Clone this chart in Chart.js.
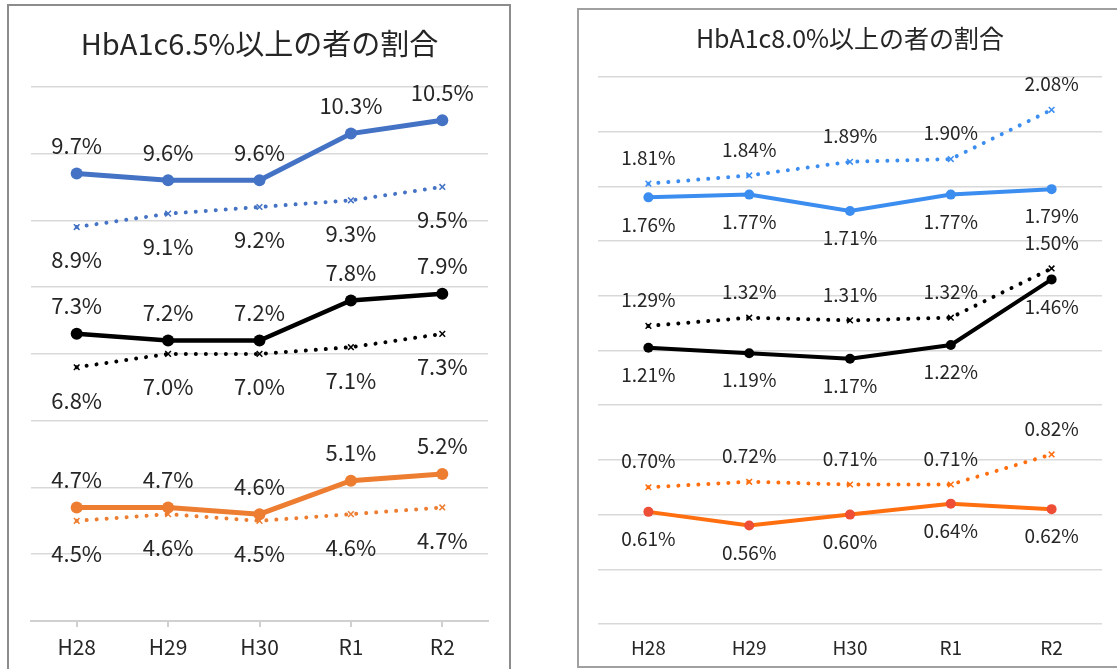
<!DOCTYPE html>
<html>
<head>
<meta charset="utf-8">
<script src="https://cdn.jsdelivr.net/npm/chart.js@4.4.1/dist/chart.umd.min.js"></script>
<style>
  body { margin: 0; background: #fff; width: 1117px; height: 669px; overflow: hidden; position: relative; }
  .panel { position: absolute; border: 2px solid #8c8c8c; box-sizing: border-box; }
  canvas { position: absolute; }
</style>
</head>
<body>
<div class="panel" style="left:7px; top:4px; width:504px; height:700px;"></div>
<div class="panel" style="left:577px; top:8px; width:560px; height:660px; border-color:#a0a0a0;"></div>
<canvas id="chart65" width="500" height="662" style="left:9px; top:6px;"></canvas>
<canvas id="chart80" width="536" height="655" style="left:579px; top:10px;"></canvas>
<script>
// fiscal years (Heisei 28 .. Reiwa 2)
const years = ['H28', 'H29', 'H30', 'R1', 'R2'];

// HbA1c 6.5% or more (%)
const a65Blue = [9.7, 9.6, 9.6, 10.3, 10.5];
const a65BlueDot = [8.9, 9.1, 9.2, 9.3, 9.5];
const a65Black = [7.3, 7.2, 7.2, 7.8, 7.9];
const a65BlackDot = [6.8, 7.0, 7.0, 7.1, 7.3];
const a65Orange = [4.7, 4.7, 4.6, 5.1, 5.2];
const a65OrangeDot = [4.5, 4.6, 4.5, 4.6, 4.7];

// HbA1c 8.0% or more (%)
const a80BlueDot = [1.81, 1.84, 1.89, 1.90, 2.08];
const a80Blue = [1.76, 1.77, 1.71, 1.77, 1.79];
const a80BlackDot = [1.29, 1.32, 1.31, 1.32, 1.50];
const a80Black = [1.21, 1.19, 1.17, 1.22, 1.46];
const a80OrangeDot = [0.70, 0.72, 0.71, 0.71, 0.82];
const a80Orange = [0.61, 0.56, 0.60, 0.64, 0.62];

const FONT = '"Noto Sans CJK JP", "Noto Sans", sans-serif';

// draws the value next to each point, above or below
const valueLabels = {
    id: 'valueLabels',
    afterDatasetsDraw(chart, args, opts) {
        const ctx = chart.ctx;
        ctx.save();
        ctx.font = opts.size + 'px ' + FONT;
        ctx.fillStyle = '#262626';
        ctx.textAlign = 'center';
        ctx.textBaseline = 'middle';
        chart.data.datasets.forEach((ds, i) => {
            const meta = chart.getDatasetMeta(i);
            meta.data.forEach((pt, j) => {
                const dy = ds.labelAbove ? -opts.above : opts.below;
                ctx.fillText(ds.data[j].toFixed(opts.digits) + '%', pt.x, pt.y + dy);
            });
        });
        ctx.restore();
    }
};

function solid(data, color, width, radius, above, pointColor) {
    return {
        data: data,
        borderColor: color,
        backgroundColor: pointColor || color,
        borderWidth: width,
        pointRadius: radius,
        pointBorderWidth: 0,
        labelAbove: above
    };
}

function dotted(data, color, above) {
    return {
        data: data,
        borderColor: color,
        backgroundColor: 'rgba(0,0,0,0)',
        borderWidth: 4,
        borderDash: [0.01, 10],
        borderCapStyle: 'round',
        pointStyle: 'crossRot',
        pointRadius: 4,
        pointBorderWidth: 1.5,
        labelAbove: above
    };
}

new Chart(document.getElementById('chart65'), {
    type: 'line',
    data: {
        labels: years,
        datasets: [
            solid(a65Blue, '#4472C4', 5, 6, true),
            dotted(a65BlueDot, '#4472C4', false),
            solid(a65Black, '#000000', 4.5, 6, true),
            dotted(a65BlackDot, '#000000', false),
            solid(a65Orange, '#ED7D31', 5, 6, true),
            dotted(a65OrangeDot, '#ED7D31', false)
        ]
    },
    options: {
        responsive: false,
        animation: false,
        devicePixelRatio: 1,
        layout: { padding: { left: 22, right: 21, top: 0, bottom: 0 } },
        plugins: {
            legend: { display: false },
            tooltip: { enabled: false },
            title: {
                display: true,
                text: 'HbA1c6.5%以上の者の割合',
                color: '#262626',
                font: { family: FONT, size: 29, weight: 'normal' },
                padding: { top: 21, bottom: 25 }
            },
            valueLabels: { size: 22, above: 28, below: 33, digits: 1 }
        },
        scales: {
            x: {
                offset: true,
                afterFit(scale) { scale.height = 47; },
                grid: { drawOnChartArea: false, drawTicks: true, tickLength: 6, color: '#d0d0d0', lineWidth: 2 },
                border: { display: true, color: '#d0d0d0', width: 2 },
                ticks: { color: '#262626', padding: 7, font: { family: FONT, size: 21 } }
            },
            y: {
                min: 3,
                max: 11,
                ticks: { display: false, stepSize: 1 },
                grid: { drawTicks: false, color: '#d9d9d9', lineWidth: 1.5 },
                border: { display: false }
            }
        }
    },
    plugins: [valueLabels]
});

new Chart(document.getElementById('chart80'), {
    type: 'line',
    data: {
        labels: years,
        datasets: [
            dotted(a80BlueDot, '#3C8DF0', true),
            solid(a80Blue, '#3C8DF0', 4, 5, false),
            dotted(a80BlackDot, '#000000', true),
            solid(a80Black, '#000000', 4, 5, false),
            dotted(a80OrangeDot, '#FF6F10', true),
            solid(a80Orange, '#FF6F10', 4, 5, false, '#EE4D36')
        ]
    },
    options: {
        responsive: false,
        animation: false,
        devicePixelRatio: 1,
        layout: { padding: { left: 19, right: 13, top: 0, bottom: 0 } },
        plugins: {
            legend: { display: false },
            tooltip: { enabled: false },
            title: {
                display: true,
                text: 'HbA1c8.0%以上の者の割合',
                color: '#262626',
                font: { family: FONT, size: 25, weight: 'normal' },
                padding: { top: 13, bottom: 24 }
            },
            valueLabels: { size: 19, above: 26, below: 27, digits: 2 }
        },
        scales: {
            x: {
                offset: true,
                afterFit(scale) { scale.height = 41; },
                grid: { display: false, drawTicks: false },
                border: { display: false },
                ticks: { color: '#262626', padding: 12, font: { family: FONT, size: 19 } }
            },
            y: {
                min: 0.2,
                max: 2.2,
                ticks: { display: false, stepSize: 0.2 },
                grid: { drawTicks: false, color: '#d9d9d9', lineWidth: 1.5 },
                border: { display: false }
            }
        }
    },
    plugins: [valueLabels]
});
</script>
</body>
</html>
